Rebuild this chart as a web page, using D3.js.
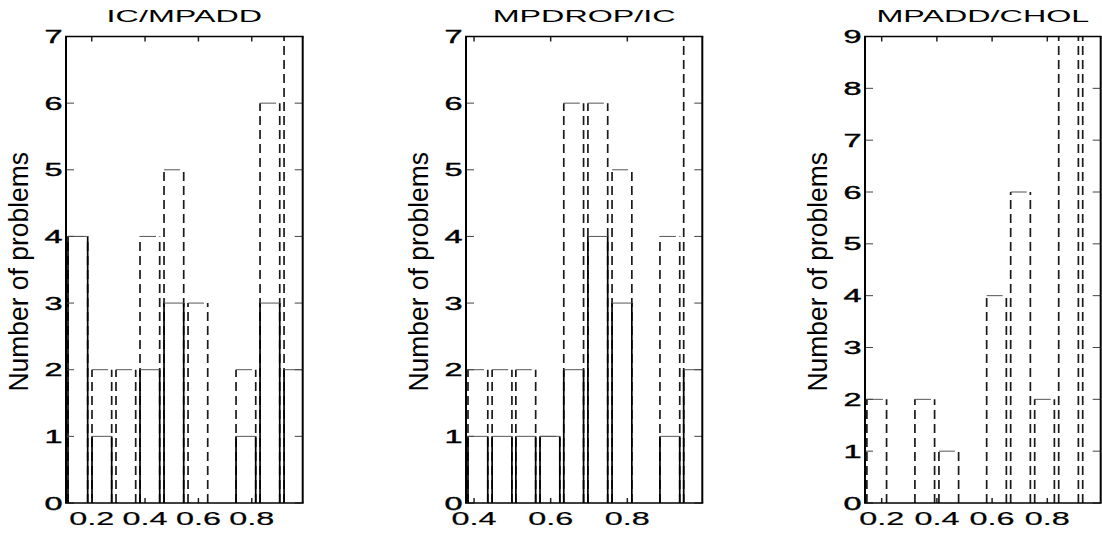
<!DOCTYPE html>
<html>
<head>
<meta charset="utf-8">
<script src="https://cdn.jsdelivr.net/npm/d3@7"></script>
<style>
  html, body { margin: 0; padding: 0; background: #fff; }
  svg { display: block; }
  text { font-family: "Liberation Sans", Arial, Helvetica, sans-serif; fill: #000; }
</style>
</head>
<body>
<svg id="chart" width="1102" height="534"></svg>
<script>
// ---------------- data ----------------
const titles = ["IC/MPADD", "MPDROP/IC", "MPADD/CHOL"];
const yLabel = "Number of problems";

// bin centres (x values) of each histogram
const centers1 = [0.148, 0.238, 0.328, 0.418, 0.508, 0.598, 0.688, 0.778, 0.868, 0.958];
const centers2 = [0.410, 0.473, 0.535, 0.598, 0.660, 0.723, 0.786, 0.848, 0.911, 0.973];
const centers3 = [0.182, 0.269, 0.356, 0.443, 0.530, 0.616, 0.703, 0.790, 0.877, 0.964];

// solid-outline counts
const solid1 = [4, 1, 0, 2, 3, 0, 0, 1, 3, 2];
const solid2 = [1, 1, 1, 1, 2, 4, 3, 0, 1, 2];
const solid3 = [0, 0, 0, 0, 0, 0, 0, 0, 0, 0];

// dashed-outline counts
const dashed1 = [4, 2, 2, 4, 5, 3, 0, 2, 6, 7];
const dashed2 = [2, 2, 2, 1, 6, 6, 5, 0, 4, 7];
const dashed3 = [2, 0, 2, 1, 0, 4, 6, 2, 9, 9];

// axis limits and tick labels
const xLimits1 = [0.1036, 0.991];
const xLimits2 = [0.379, 0.9957];
const xLimits3 = [0.1395, 0.9935];
const xTicks1 = [0.2, 0.4, 0.6, 0.8];
const xTicks2 = [0.4, 0.6, 0.8];
const xTicks3 = [0.2, 0.4, 0.6, 0.8];
const yMax1 = 7, yMax2 = 7, yMax3 = 9;
const yTicks1 = [0, 1, 2, 3, 4, 5, 6, 7];
const yTicks2 = [0, 1, 2, 3, 4, 5, 6, 7];
const yTicks3 = [0, 1, 2, 3, 4, 5, 6, 7, 8, 9];

// ---------------- layout ----------------
const plotTop = 36.5, plotBottom = 503;
const panelsX = [[66, 302.7], [466, 702.3], [865, 1100.7]];
const fontSize = 18;

const panels = [
  {title: titles[0], c: centers1, s: solid1, d: dashed1, xl: xLimits1, xt: xTicks1, ym: yMax1, yt: yTicks1},
  {title: titles[1], c: centers2, s: solid2, d: dashed2, xl: xLimits2, xt: xTicks2, ym: yMax2, yt: yTicks2},
  {title: titles[2], c: centers3, s: solid3, d: dashed3, xl: xLimits3, xt: xTicks3, ym: yMax3, yt: yTicks3}
];

const svg = d3.select("#chart");
const defs = svg.append("defs");

function stretchedText(g, x, y, str, anchor, size, sx, sw) {
  return g.append("text")
    .attr("transform", `translate(${x},${y}) scale(${sx},1)`)
    .attr("text-anchor", anchor)
    .attr("font-size", size)
    .attr("stroke", sw ? "#000" : null)
    .attr("stroke-width", sw || null)
    .text(str);
}

panels.forEach((p, i) => {
  const [L, R] = panelsX[i];
  const x = d3.scaleLinear().domain(p.xl).range([L, R]);
  const y = d3.scaleLinear().domain([0, p.ym]).range([plotBottom, plotTop]);
  const g = svg.append("g");

  defs.append("clipPath").attr("id", "clip" + i)
    .append("rect").attr("x", L).attr("y", plotTop - 1).attr("width", R - L).attr("height", plotBottom - plotTop + 2);

  const bars = g.append("g").attr("clip-path", `url(#clip${i})`);
  const half = 0.41 * (x(p.c[1]) - x(p.c[0]));

  function drawSeries(vals, dashed) {
    const data = p.c.map((c, k) => ({c, v: vals[k]})).filter(d => d.v > 0);
    const grp = bars.append("g");
    grp.selectAll("line.side").data(data.flatMap(d => [{xx: x(d.c) - half, v: d.v}, {xx: x(d.c) + half, v: d.v}]))
      .join("line").attr("class", "side")
      .attr("x1", d => d.xx).attr("x2", d => d.xx)
      .attr("y1", y(0)).attr("y2", d => y(d.v))
      .attr("stroke", dashed ? "#1a1a1a" : "#000")
      .attr("stroke-width", 1.7)
      .attr("stroke-dasharray", dashed ? "9,5" : null);
    grp.selectAll("line.top").data(data)
      .join("line").attr("class", "top")
      .attr("x1", d => x(d.c) - half).attr("x2", d => x(d.c) + half)
      .attr("y1", d => y(d.v)).attr("y2", d => y(d.v))
      .attr("stroke", "#555")
      .attr("stroke-width", 1)
      .attr("stroke-dasharray", dashed ? "16,8" : null);
  }
  drawSeries(p.d, true);
  drawSeries(p.s, false);

  const tg = g.append("g");
  p.xt.forEach(t => {
    tg.append("line").attr("x1", x(t)).attr("x2", x(t)).attr("y1", plotBottom).attr("y2", plotBottom - 5)
      .attr("stroke", "#222").attr("stroke-width", 1.5);
    tg.append("line").attr("x1", x(t)).attr("x2", x(t)).attr("y1", plotTop).attr("y2", plotTop + 5)
      .attr("stroke", "#222").attr("stroke-width", 1.5);
    stretchedText(g, x(t), 525, d3.format(".1f")(t), "middle", fontSize, 1.8, 0.2);
  });
  p.yt.forEach(t => {
    tg.append("line").attr("x1", L).attr("x2", L + 8).attr("y1", y(t)).attr("y2", y(t))
      .attr("stroke", "#444").attr("stroke-width", 1);
    tg.append("line").attr("x1", R).attr("x2", R - 8).attr("y1", y(t)).attr("y2", y(t))
      .attr("stroke", "#444").attr("stroke-width", 1);
    stretchedText(g, L - 3.5, y(t) + 6.5, String(t), "end", fontSize, 1.8, 0.4);
  });

  const fg = g.append("g").attr("stroke", "#000");
  fg.append("line").attr("x1", L).attr("x2", L).attr("y1", plotTop).attr("y2", plotBottom).attr("stroke-width", 2);
  fg.append("line").attr("x1", R).attr("x2", R).attr("y1", plotTop).attr("y2", plotBottom).attr("stroke-width", 2);
  fg.append("line").attr("x1", L - 1).attr("x2", R + 1).attr("y1", plotTop).attr("y2", plotTop).attr("stroke-width", 1.3);
  fg.append("line").attr("x1", L - 1).attr("x2", R + 1).attr("y1", plotBottom).attr("y2", plotBottom).attr("stroke-width", 1.5);

  stretchedText(g, (L + R) / 2, 22, p.title, "middle", 17, 1.9, 0);

  g.append("text")
    .attr("transform", `translate(${L - 38},${(plotTop + plotBottom) / 2 + 2}) rotate(-90) scale(0.98,1)`)
    .attr("text-anchor", "middle")
    .attr("font-size", 27)
    .text(yLabel);
});
</script>
</body>
</html>
